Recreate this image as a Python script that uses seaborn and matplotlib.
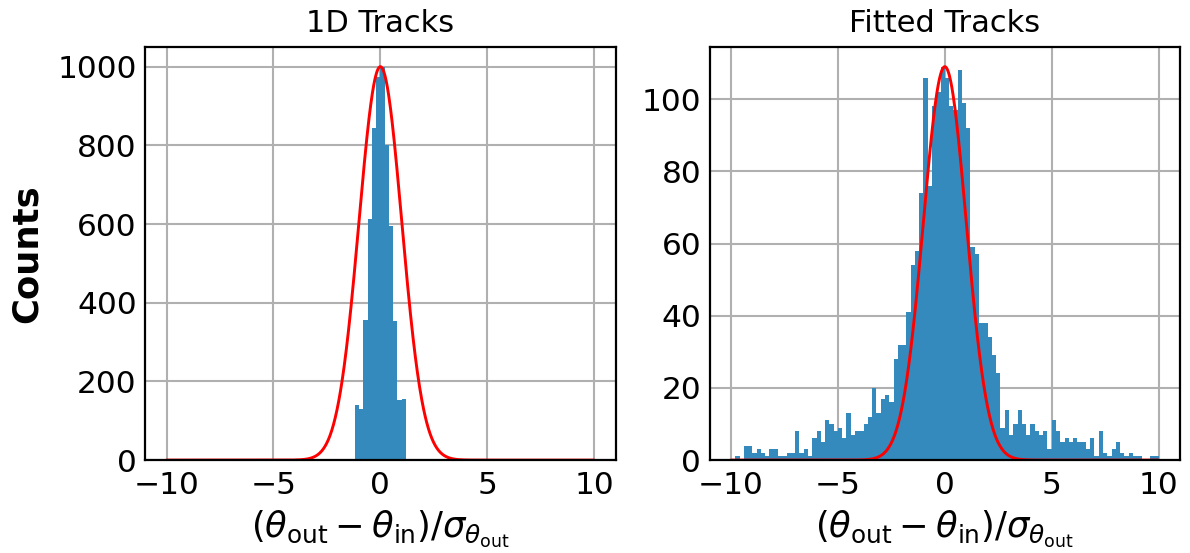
import numpy as np
import pandas as pd
import matplotlib
matplotlib.use("Agg")
import matplotlib.pyplot as plt
import seaborn as sns

# Histogram binning shared by both panels: 100 bins of width 0.2 on [-10, 10]
bin_lo, bin_hi, bin_width = -10.0, 10.0, 0.2
n_bins = int(round((bin_hi - bin_lo) / bin_width))
bin_centers = bin_lo + bin_width * (np.arange(n_bins) + 0.5)

# 1D tracks: only populated between -1.2 and 1.2
tracks_1d_edges_lo = -1.2
tracks_1d_counts = [141, 130, 357, 613, 844, 973, 1000, 800, 596, 354, 153, 155]

# Fitted tracks: counts for all 100 bins
fitted_counts = [
    0, 1, 0, 4, 4, 2, 3, 2, 1, 3,
    3, 1, 1, 2, 2, 8, 2, 3, 1, 6,
    8, 5, 11, 10, 8, 9, 6, 13, 7, 8,
    8, 10, 12, 20, 13, 17, 18, 16, 28, 32,
    32, 41, 54, 58, 74, 106, 76, 98, 102, 109,
    106, 98, 97, 108, 99, 92, 59, 57, 38, 38,
    34, 29, 24, 9, 14, 7, 10, 14, 10, 7,
    10, 8, 7, 8, 3, 11, 8, 5, 6, 5,
    6, 5, 5, 3, 6, 1, 8, 2, 1, 3,
    5, 2, 1, 2, 1, 1, 0, 0, 1, 1,
]

# Reference Gaussian overlaid on each histogram (unit width, centred at zero)
gauss_mu = 0.0
gauss_sigma = 1.0

titles = ["1D Tracks", "Fitted Tracks"]
xticks = [-10, -5, 0, 5, 10]
yticks_left = [0, 200, 400, 600, 800, 1000]
yticks_right = [0, 20, 40, 60, 80, 100]

bar_color = "#348ABD"
curve_color = "red"

sns.set_theme(style="whitegrid", rc={
    "axes.edgecolor": "black",
    "axes.linewidth": 1.6,
    "grid.color": "#b0b0b0",
    "grid.linewidth": 1.5,
    "xtick.color": "black",
    "ytick.color": "black",
    "text.color": "black",
    "axes.labelcolor": "black",
    "mathtext.fontset": "dejavusans",
})
plt.rcParams["font.family"] = ["DejaVu Sans"]

# Build per-bin tables for the two panels
left_counts = np.zeros(n_bins)
start = int(round((tracks_1d_edges_lo - bin_lo) / bin_width))
left_counts[start:start + len(tracks_1d_counts)] = tracks_1d_counts
df_left = pd.DataFrame({"x": bin_centers, "n": left_counts})
df_right = pd.DataFrame({"x": bin_centers, "n": np.asarray(fitted_counts, float)})

fig, axes = plt.subplots(1, 2, figsize=(11.9, 5.53), dpi=100)
fig.subplots_adjust(left=0.122, right=0.9916, top=0.915, bottom=0.168, wspace=0.2)

xs = np.linspace(bin_lo, bin_hi, 1000)
for ax, df, title, yt in zip(axes, [df_left, df_right], titles, [yticks_left, yticks_right]):
    sns.histplot(data=df, x="x", weights="n", binwidth=bin_width,
                 binrange=(bin_lo, bin_hi), ax=ax,
                 color=bar_color, alpha=1.0, linewidth=0, element="bars")
    amp = df["n"].max()
    curve = amp * np.exp(-0.5 * ((xs - gauss_mu) / gauss_sigma) ** 2)
    sns.lineplot(x=xs, y=curve, ax=ax, color=curve_color, linewidth=2.1)
    ax.set_title(title, fontsize=22, pad=11)
    ax.set_xticks(xticks)
    ax.set_yticks(yt)
    ax.tick_params(axis="y", labelsize=22.5, length=0, pad=6)
    ax.tick_params(axis="x", labelsize=22.5, length=0, pad=8)
    ax.set_xlabel(r"$(\theta_{\rm out} - \theta_{\rm in})/\sigma_{\theta_{\rm out}}$",
                  fontsize=25.5, labelpad=6)
    ax.set_ylabel("")
    ax.grid(True)
    ax.set_axisbelow(True)
    for s in ax.spines.values():
        s.set_color("black")

axes[0].set_ylabel("Counts", fontsize=25.5, fontweight="bold", labelpad=10)

fig.savefig("out.png", dpi=100)
